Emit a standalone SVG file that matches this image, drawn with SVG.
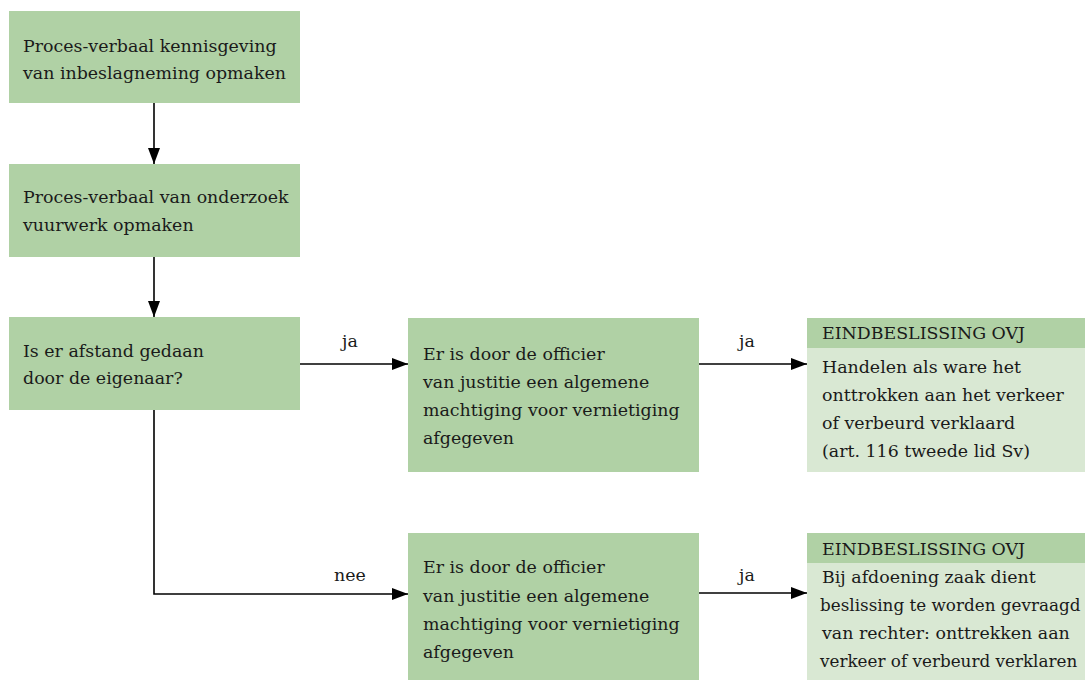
<svg xmlns="http://www.w3.org/2000/svg" width="1085" height="680" viewBox="0 0 1085 680">
<defs>
<marker id="arr" viewBox="0 0 16 12" refX="16" refY="6" markerWidth="16" markerHeight="12" markerUnits="userSpaceOnUse" orient="auto">
<path d="M0,0 L16,6 L0,12 Z" fill="#000"/>
</marker>
<style>
.box{fill:#b0d1a5}
.light{fill:#d9e8d3}
text{font-family:"DejaVu Serif","Liberation Serif",serif;font-size:17.4px;fill:#1a1a1a}
.fit{font-size:16.8px}
.lbl{text-anchor:middle}
.conn{stroke:#000;stroke-width:1.6;fill:none}
</style>
</defs>
<rect width="1085" height="680" fill="#fff"/>
<g id="connectors">
<path class="conn" d="M154,103 V164" marker-end="url(#arr)"/>
<path class="conn" d="M154,257 V317" marker-end="url(#arr)"/>
<path class="conn" d="M300,364 H408" marker-end="url(#arr)"/>
<path class="conn" d="M699,364 H807" marker-end="url(#arr)"/>
<path class="conn" d="M154,410 V594 H408" marker-end="url(#arr)"/>
<path class="conn" d="M699,593 H807" marker-end="url(#arr)"/>
<text class="lbl" x="350" y="347">ja</text>
<text class="lbl" x="747" y="347">ja</text>
<text class="lbl" x="350" y="581">nee</text>
<text class="lbl" x="747" y="581">ja</text>
</g>
<g id="n1">
<rect class="box" x="9" y="11" width="291" height="92"/>
<text x="23" y="52">Proces-verbaal kennisgeving</text>
<text x="23" y="79">van inbeslagneming opmaken</text>
</g>
<g id="n2">
<rect class="box" x="9" y="164" width="291" height="93"/>
<text x="23" y="203">Proces-verbaal van onderzoek</text>
<text x="23" y="231">vuurwerk opmaken</text>
</g>
<g id="n3">
<rect class="box" x="9" y="317" width="291" height="93"/>
<text x="23" y="357">Is er afstand gedaan</text>
<text x="23" y="384">door de eigenaar?</text>
</g>
<g id="n4">
<rect class="box" x="408" y="318" width="291" height="154"/>
<text x="423" y="360">Er is door de officier</text>
<text x="423" y="388">van justitie een algemene</text>
<text x="423" y="416">machtiging voor vernietiging</text>
<text x="423" y="444">afgegeven</text>
</g>
<g id="n5">
<rect class="light" x="807" y="318" width="278" height="154"/>
<rect class="box" x="807" y="318" width="278" height="30"/>
<text x="822" y="339">EINDBESLISSING OVJ</text>
<text x="822" y="373">Handelen als ware het</text>
<text x="822" y="401">onttrokken aan het verkeer</text>
<text x="822" y="429">of verbeurd verklaard</text>
<text x="822" y="457">(art. 116 tweede lid Sv)</text>
</g>
<g id="n6">
<rect class="box" x="408" y="533" width="291" height="147"/>
<text x="423" y="573">Er is door de officier</text>
<text x="423" y="602">van justitie een algemene</text>
<text x="423" y="630">machtiging voor vernietiging</text>
<text x="423" y="658">afgegeven</text>
</g>
<g id="n7">
<rect class="light" x="807" y="533" width="278" height="147"/>
<rect class="box" x="807" y="533" width="278" height="30"/>
<text x="822" y="555">EINDBESLISSING OVJ</text>
<text x="822" y="583">Bij afdoening zaak dient</text>
<text class="fit" x="820" y="611">beslissing te worden gevraagd</text>
<text x="822" y="639">van rechter: onttrekken aan</text>
<text class="fit" x="820" y="667">verkeer of verbeurd verklaren</text>
</g>
</svg>
